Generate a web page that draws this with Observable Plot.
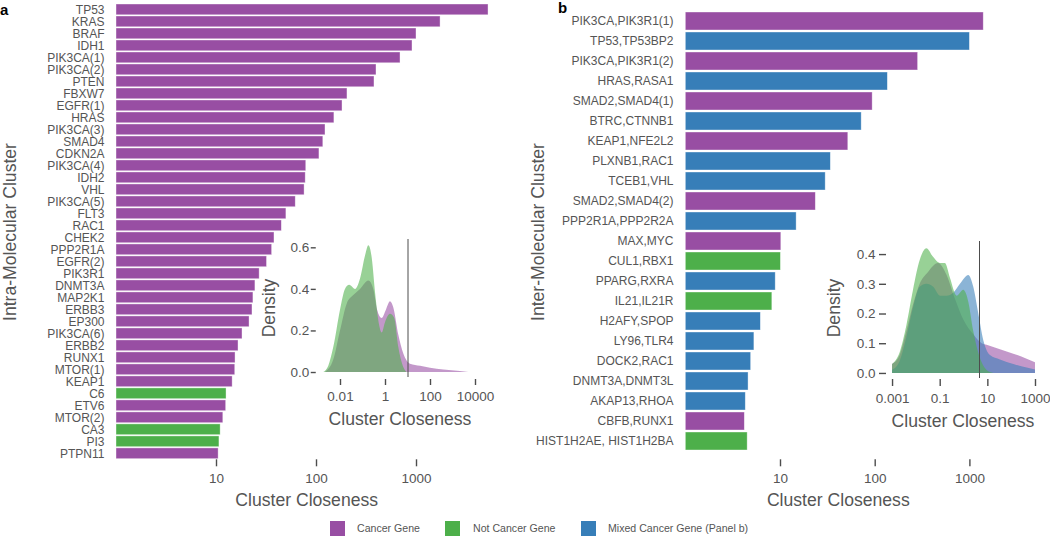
<!DOCTYPE html>
<html>
<head>
<meta charset="utf-8">
<script src="https://cdn.jsdelivr.net/npm/d3@7"></script>
<script src="https://cdn.jsdelivr.net/npm/@observablehq/plot@0.6"></script>
<style>
  body { margin: 0; background: #fff; }
  #root { position: relative; width: 1050px; height: 536px; overflow: hidden;
          font-family: "Liberation Sans", Arial, sans-serif; color: #555; }
  #root svg { position: absolute; left: 0; top: 0; }
  .t { position: absolute; white-space: nowrap; font-size: 17.6px; color: #555; line-height: 1; }
  .rot { transform: translate(-50%, -50%) rotate(-90deg); }
  .ctr { transform: translate(-50%, -50%); }
  .panel { position: absolute; font-weight: bold; font-size: 15px; color: #000; line-height: 1; }
  .leg { position: absolute; top: 520.5px; height: 15px; display: flex; align-items: center; font-size: 10.6px; color: #555; }
  .sw { position: absolute; top: 520.5px; width: 15px; height: 15px; }
</style>
</head>
<body>
<div id="root"></div>
<script>
// ---------------- data ----------------
const typeNames = ["Cancer Gene", "Not Cancer Gene", "Mixed Cancer Gene (Panel b)"];
const typeCodes = ["C", "N", "M"];
const typeColors = ["#984EA3", "#4DAF4A", "#377EB8"];

// Panel a: intra-molecular clusters
const clustersA = ["TP53","KRAS","BRAF","IDH1","PIK3CA(1)","PIK3CA(2)","PTEN","FBXW7","EGFR(1)","HRAS",
  "PIK3CA(3)","SMAD4","CDKN2A","PIK3CA(4)","IDH2","VHL","PIK3CA(5)","FLT3","RAC1","CHEK2",
  "PPP2R1A","EGFR(2)","PIK3R1","DNMT3A","MAP2K1","ERBB3","EP300","PIK3CA(6)","ERBB2","RUNX1",
  "MTOR(1)","KEAP1","C6","ETV6","MTOR(2)","CA3","PI3","PTPN11"];
const closenessA = [5250,1740,1000,912,692,398,380,204,182,151,
  123,117,107,79,78,76,62,50,45,38,
  36,32,27,24.5,23.4,22.9,21.4,18.2,16.6,15.5,
  15.4,14.5,12.6,12.5,11.7,11.0,10.7,10.5];
const typeA = ["C","C","C","C","C","C","C","C","C","C",
  "C","C","C","C","C","C","C","C","C","C",
  "C","C","C","C","C","C","C","C","C","C",
  "C","C","N","C","C","N","N","C"];

// Panel b: inter-molecular clusters
const clustersB = ["PIK3CA,PIK3R1(1)","TP53,TP53BP2","PIK3CA,PIK3R1(2)","HRAS,RASA1","SMAD2,SMAD4(1)",
  "BTRC,CTNNB1","KEAP1,NFE2L2","PLXNB1,RAC1","TCEB1,VHL","SMAD2,SMAD4(2)","PPP2R1A,PPP2R2A",
  "MAX,MYC","CUL1,RBX1","PPARG,RXRA","IL21,IL21R","H2AFY,SPOP","LY96,TLR4","DOCK2,RAC1",
  "DNMT3A,DNMT3L","AKAP13,RHOA","CBFB,RUNX1","HIST1H2AE, HIST1H2BA"];
const closenessB = [1400,1000,284,136,94,72,52,34,30,23.6,14.8,10.2,10.1,8.9,8.2,6.2,5.3,4.9,4.6,4.3,4.2,4.5];
const typeB = ["C","M","C","M","C","M","C","M","M","C","M","C","N","M","N","M","M","M","M","M","C","N"];

// axis ticks
const barTicks = [10, 100, 1000];
const barTickLabels = ["10", "100", "1000"];
const insetATicksX = [-2, 0, 2, 4];           // log10 closeness
const insetATickLabelsX = ["0.01", "1", "100", "10000"];
const insetATicksY = [0, 0.2, 0.4, 0.6];
const insetATickLabelsY = ["0.0", "0.2", "0.4", "0.6"];
const insetBTicksX = [-3, -1, 1, 3];
const insetBTickLabelsX = ["0.001", "0.1", "10", "1000"];
const insetBTicksY = [0, 0.1, 0.2, 0.3, 0.4];
const insetBTickLabelsY = ["0.0", "0.1", "0.2", "0.3", "0.4"];

// density insets (x = log10 cluster closeness)
const thresholdA = 1.0;   // log10(10)
const thresholdB = 0.65;  // log10(~4.5)

const densA_cancer_x = [-2.67,-2.3,-2.0,-1.7,-1.41,-1.11,-0.74,-0.52,-0.35,-0.15,0.04,0.22,0.37,0.59,0.81,1.11,1.56,2.0,2.59,3.33,3.7];
const densA_cancer_y = [0,0.06,0.20,0.33,0.37,0.40,0.44,0.40,0.30,0.26,0.30,0.34,0.31,0.18,0.09,0.04,0.03,0.02,0.012,0.005,0];
const densA_not_x = [-2.74,-2.52,-2.3,-2.0,-1.78,-1.59,-1.33,-1.11,-0.89,-0.74,-0.59,-0.44,-0.25,-0.15,0,0.22,0.41,0.59,0.79,0.96];
const densA_not_y = [0,0.03,0.12,0.30,0.40,0.42,0.40,0.45,0.56,0.61,0.55,0.38,0.22,0.19,0.24,0.28,0.26,0.12,0.03,0];

const densB_cancer_x = [-3,-2.68,-2.4,-2.12,-1.84,-1.49,-1.07,-0.71,-0.36,-0.01,0.41,0.76,0.97,1.53,2.09,2.65,3.0];
const densB_cancer_y = [0.03,0.06,0.14,0.23,0.30,0.34,0.37,0.33,0.25,0.18,0.13,0.10,0.095,0.08,0.065,0.048,0.036];
const densB_mixed_x = [-3,-2.68,-2.4,-2.12,-1.84,-1.56,-1.27,-0.99,-0.71,-0.43,-0.15,0.2,0.41,0.62,0.83,1.11,1.53,2.09,2.65,3.0];
const densB_mixed_y = [0.01,0.04,0.12,0.22,0.29,0.30,0.29,0.26,0.26,0.27,0.30,0.33,0.29,0.20,0.11,0.06,0.045,0.03,0.018,0.012];
const densB_not_x = [-3,-2.68,-2.4,-2.12,-1.84,-1.56,-1.27,-0.99,-0.78,-0.57,-0.29,-0.01,0.2,0.41,0.69,0.97,1.25];
const densB_not_y = [0.03,0.07,0.16,0.28,0.38,0.42,0.39,0.37,0.37,0.32,0.26,0.28,0.24,0.14,0.05,0.01,0];

// ---------------- helpers ----------------
const root = document.getElementById("root");
const colorScale = {domain: typeCodes, range: typeColors};
const fontFamily = '"Liberation Sans", Arial, sans-serif';
const baseStyle = {background: "transparent", fontFamily, color: "#555", overflow: "visible"};
const fmt = (ticks, labels) => d => labels[ticks.findIndex(t => Math.abs(t - d) < 1e-9)];
const rows = (names, vals, types) => names.map((n, i) => ({cluster: n, value: vals[i], type: types[i]}));
const pts = (xs, ys) => xs.map((x, i) => ({lx: x, d: ys[i]}));

function barPanel(names, vals, types, left, right, xmax, labelRight, labelSize) {
  return Plot.plot({
    width: 1050, height: 536,
    marginLeft: left, marginRight: 1050 - right, marginTop: 3.4, marginBottom: 536 - 459.3,
    style: baseStyle,
    x: {type: "log", domain: [1, xmax]},
    y: {domain: names, paddingInner: 0.1, paddingOuter: 0.05},
    color: colorScale,
    marks: [
      Plot.barX(rows(names, vals, types), {
        x1: () => 1, x2: "value", y: "cluster", fill: "type",
        stroke: "#fff", strokeOpacity: 0.55, strokeWidth: 0.7
      }),
      Plot.axisX({ticks: barTicks, tickFormat: fmt(barTicks, barTickLabels), tickSize: 7,
        tickPadding: 6.5, fontSize: 13.5, label: null, stroke: "#4d4d4d", strokeWidth: 1.4}),
      Plot.axisY({tickSize: 0, tickPadding: left - labelRight, fontSize: labelSize, label: null})
    ]
  });
}

function inset(series, xdom, left, right, ydom, top, bottom, ticksX, labelsX, ticksY, labelsY, thr, opts) {
  return Plot.plot({
    width: 1050, height: 536,
    marginLeft: left, marginRight: 1050 - right, marginTop: top, marginBottom: 536 - bottom,
    style: baseStyle,
    x: {domain: xdom},
    y: {domain: ydom},
    color: colorScale,
    marks: [
      ...series.map(s => Plot.areaY(s.data, {x: "lx", y: "d", fill: s.color, fillOpacity: 0.58, curve: "monotone-x"})),
      Plot.ruleX([thr], {stroke: "#4d4d4d", strokeWidth: 1}),
      Plot.axisX({ticks: ticksX, tickFormat: fmt(ticksX, labelsX), tickSize: opts.xts, tickPadding: opts.xtp,
        dy: opts.xdy, fontSize: 13.5, label: null, stroke: "#4d4d4d", strokeWidth: 1.4}),
      Plot.axisY({ticks: ticksY, tickFormat: fmt(ticksY, labelsY), tickSize: opts.yts, tickPadding: opts.ytp,
        dx: opts.ydx, fontSize: 13.5, label: null, stroke: "#4d4d4d", strokeWidth: 1.4})
    ]
  });
}

// ---------------- panels ----------------
root.appendChild(barPanel(clustersA, closenessA, typeA, 116, 490, 5495, 104, 12));
root.appendChild(barPanel(clustersB, closenessB, typeB, 685.3, 1040, Math.pow(10, (1040 - 685.3) / 94.7), 673, 12));

root.appendChild(inset(
  [{data: pts(densA_cancer_x, densA_cancer_y), color: typeColors[0]},
   {data: pts(densA_not_x, densA_not_y), color: typeColors[1]}],
  [-2.9, 4.0], 319.75, 475, [-0.024, 0.64], 239, 377,
  insetATicksX, insetATickLabelsX, insetATicksY, insetATickLabelsY, thresholdA,
  {xts: 6, xtp: 6, xdy: 2, yts: 5, ytp: 2, ydx: -4}));

root.appendChild(inset(
  [{data: pts(densB_cancer_x, densB_cancer_y), color: typeColors[0]},
   {data: pts(densB_mixed_x, densB_mixed_y), color: typeColors[2]},
   {data: pts(densB_not_x, densB_not_y), color: typeColors[1]}],
  [-3.17, 3.3], 888, 963.5 + 23.83 * 3.3, [-0.017, 0.444], 241, 378,
  insetBTicksX, insetBTickLabelsX, insetBTicksY, insetBTickLabelsY, thresholdB,
  {xts: 7, xtp: 6.5, xdy: 1, yts: 7, ytp: 4, ydx: -2}));

// ---------------- text ----------------
function addText(txt, x, y, cls) {
  const el = document.createElement("div");
  el.className = "t " + cls;
  el.textContent = txt;
  el.style.left = x + "px";
  el.style.top = y + "px";
  root.appendChild(el);
}
addText("Intra-Molecular Cluster", 10.5, 232, "rot");
addText("Inter-Molecular Cluster", 539, 232, "rot");
addText("Cluster Closeness", 306.7, 501, "ctr");
addText("Cluster Closeness", 838.3, 501, "ctr");
addText("Cluster Closeness", 400, 420, "ctr");
addText("Cluster Closeness", 963, 421.5, "ctr");
addText("Density", 270, 308, "rot");
addText("Density", 835, 307.5, "rot");

const pa = document.createElement("div");
pa.className = "panel"; pa.textContent = "a"; pa.style.left = "0px"; pa.style.top = "2px";
root.appendChild(pa);
const pb = document.createElement("div");
pb.className = "panel"; pb.textContent = "b"; pb.style.left = "558px"; pb.style.top = "0px";
root.appendChild(pb);

// ---------------- legend ----------------
const legendSwatchX = [330, 445, 581];
const legendTextX = [357, 473, 608];
typeNames.forEach((name, i) => {
  const sw = document.createElement("div");
  sw.className = "sw";
  sw.style.left = legendSwatchX[i] + "px";
  sw.style.background = typeColors[i];
  root.appendChild(sw);
  const lt = document.createElement("div");
  lt.className = "leg";
  lt.style.left = legendTextX[i] + "px";
  lt.textContent = name;
  root.appendChild(lt);
});
</script>
</body>
</html>
